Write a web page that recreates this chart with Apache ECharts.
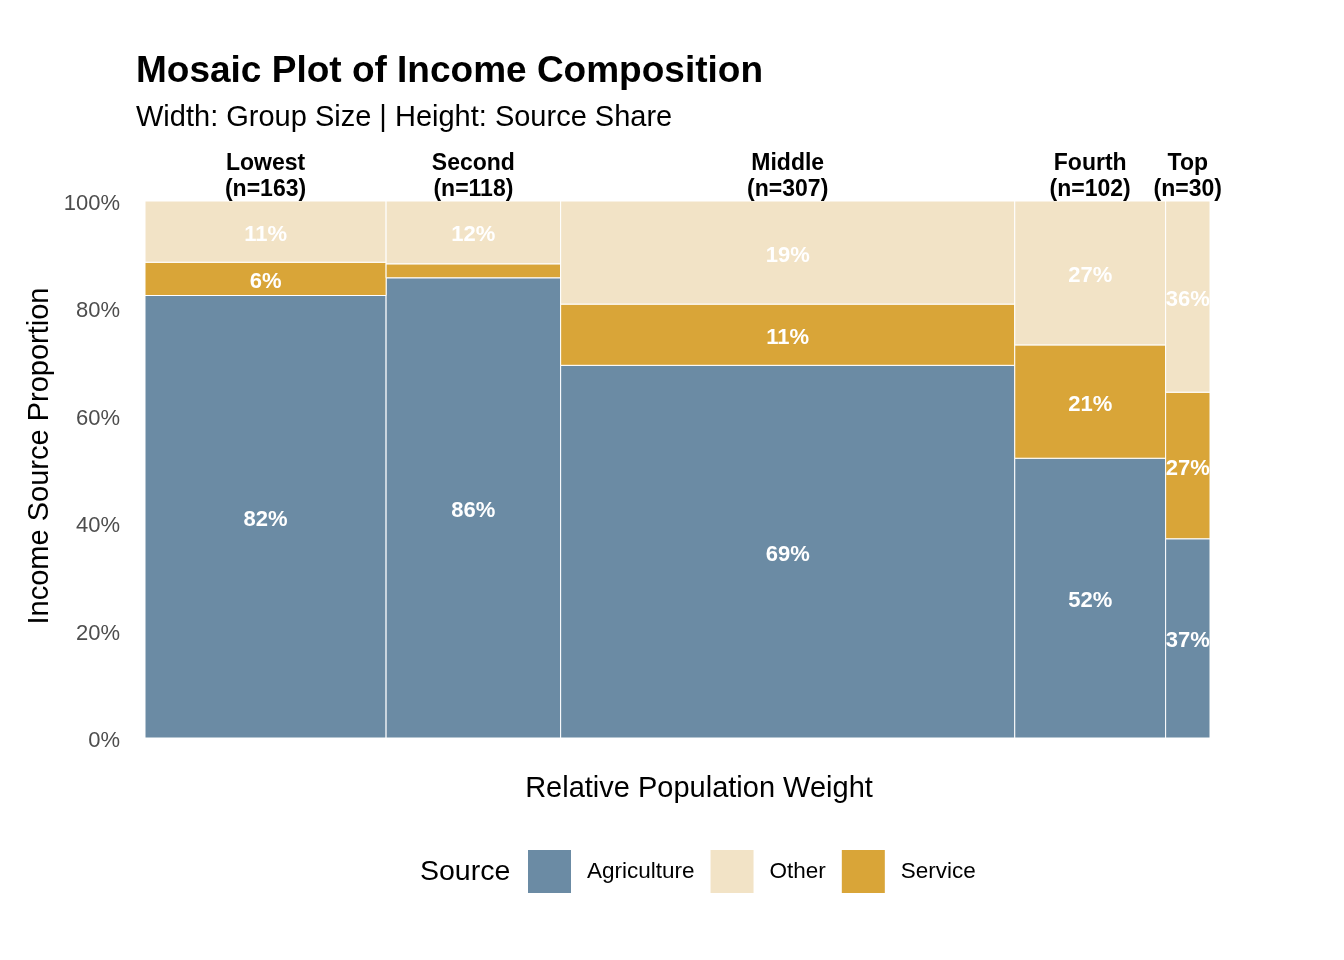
<!DOCTYPE html>
<html>
<head>
<meta charset="utf-8">
<script src="https://cdn.jsdelivr.net/npm/echarts@6/dist/echarts.min.js"></script>
<style>html,body{margin:0;padding:0;background:#fff}#c{width:1344px;height:960px}</style>
</head>
<body>
<div id="c"></div>
<script>
// ---- data ----
var groups = ['Lowest', 'Second', 'Middle', 'Fourth', 'Top'];
var groupN = [163, 118, 307, 102, 30];
// shares (%) per source, stacked bottom to top: Agriculture, Service, Other
var agriculture = [82.4, 85.7, 69.4, 52.1, 37.1];
var service =     [6.2,  2.6,  11.4, 21.1, 27.3];
var other =       [11.4, 11.7, 19.2, 26.8, 35.6];
var yTicks = [0, 20, 40, 60, 80, 100];

var FONT = "'Liberation Sans', Arial, sans-serif";
var colors = { Agriculture: '#6B8BA4', Service: '#D9A538', Other: '#F2E3C6' };

var total = groupN.reduce(function (a, b) { return a + b; }, 0);
var xStart = [];
var acc = 0;
groupN.forEach(function (n) { xStart.push(acc); acc += n; });

function buildCells(values, below) {
  return values.map(function (v, i) {
    var y0 = below.reduce(function (s, arr) { return s + arr[i]; }, 0);
    return [xStart[i], xStart[i] + groupN[i], y0, y0 + v, v];
  });
}
var agriCells = buildCells(agriculture, []);
var servCells = buildCells(service, [agriculture]);
var otherCells = buildCells(other, [agriculture, service]);

function cellRender(color) {
  return function (params, api) {
    var p0 = api.coord([api.value(0), api.value(3)]);
    var p1 = api.coord([api.value(1), api.value(2)]);
    var pct = api.value(4);
    var children = [{
      type: 'rect',
      shape: { x: p0[0], y: p0[1], width: p1[0] - p0[0], height: p1[1] - p0[1] },
      style: { fill: color, stroke: '#ffffff', lineWidth: 1 }
    }];
    if (pct >= 5) {
      children.push({
        type: 'text',
        style: {
          text: Math.round(pct) + '%',
          x: (p0[0] + p1[0]) / 2, y: (p0[1] + p1[1]) / 2 + 3,
          align: 'center', verticalAlign: 'middle',
          fill: '#ffffff', font: 'bold 22px ' + FONT
        }
      });
    }
    return { type: 'group', children: children };
  };
}

var headerData = groups.map(function (g, i) { return [xStart[i] + groupN[i] / 2, 100, g, groupN[i]]; });

var chart = echarts.init(document.getElementById('c'));
chart.setOption({
  animation: false,
  backgroundColor: '#ffffff',
  title: {
    text: 'Mosaic Plot of Income Composition',
    subtext: 'Width: Group Size | Height: Source Share',
    left: 131, top: 48, itemGap: 12,
    textStyle: { fontFamily: FONT, fontSize: 37, fontWeight: 'bold', color: '#000', lineHeight: 38 },
    subtextStyle: { fontFamily: FONT, fontSize: 29, color: '#000', lineHeight: 30 }
  },
  grid: { left: 145, right: 134, top: 201, bottom: 222, containLabel: false },
  xAxis: { type: 'value', min: 0, max: total, show: false },
  yAxis: {
    type: 'value', min: 0, max: 100, interval: 20,
    axisLine: { show: false }, axisTick: { show: false }, splitLine: { show: false },
    axisLabel: { formatter: '{value}%', fontFamily: FONT, fontSize: 22, color: '#4D4D4D', margin: 25,
      verticalAlign: 'top', lineHeight: 6, customValues: yTicks }
  },
  legend: {
    data: ['Agriculture', 'Other', 'Service'],
    left: 528, top: 850, padding: 0,
    itemWidth: 43, itemHeight: 43, itemGap: 16, icon: 'rect',
    textStyle: { fontFamily: FONT, fontSize: 22.5, color: '#000', padding: [0, 0, 0, 11] }
  },
  graphic: [
    { type: 'text', x: 40, y: 456, rotation: Math.PI / 2,
      style: { text: 'Income Source Proportion', align: 'center', verticalAlign: 'middle', font: '29px ' + FONT, fill: '#000' } },
    { type: 'text', x: 699, y: 789,
      style: { text: 'Relative Population Weight', align: 'center', verticalAlign: 'middle', font: '29px ' + FONT, fill: '#000' } },
    { type: 'text', x: 420, y: 872,
      style: { text: 'Source', align: 'left', verticalAlign: 'middle', font: '28.5px ' + FONT, fill: '#000' } }
  ],
  series: [
    { name: 'Agriculture', type: 'custom', itemStyle: { color: colors.Agriculture },
      renderItem: cellRender(colors.Agriculture), data: agriCells },
    { name: 'Service', type: 'custom', itemStyle: { color: colors.Service },
      renderItem: cellRender(colors.Service), data: servCells },
    { name: 'Other', type: 'custom', itemStyle: { color: colors.Other },
      renderItem: cellRender(colors.Other), data: otherCells },
    { name: 'headers', type: 'custom', silent: true,
      renderItem: function (params, api) {
        var p = api.coord([api.value(0), api.value(1)]);
        var d = headerData[params.dataIndex];
        return {
          type: 'text',
          style: {
            text: d[2] + '\n(n=' + d[3] + ')',
            x: p[0], y: p[1] + 2,
            align: 'center', verticalAlign: 'bottom',
            font: 'bold 23px ' + FONT, lineHeight: 26, fill: '#000'
          }
        };
      },
      data: headerData }
  ]
});
</script>
</body>
</html>
